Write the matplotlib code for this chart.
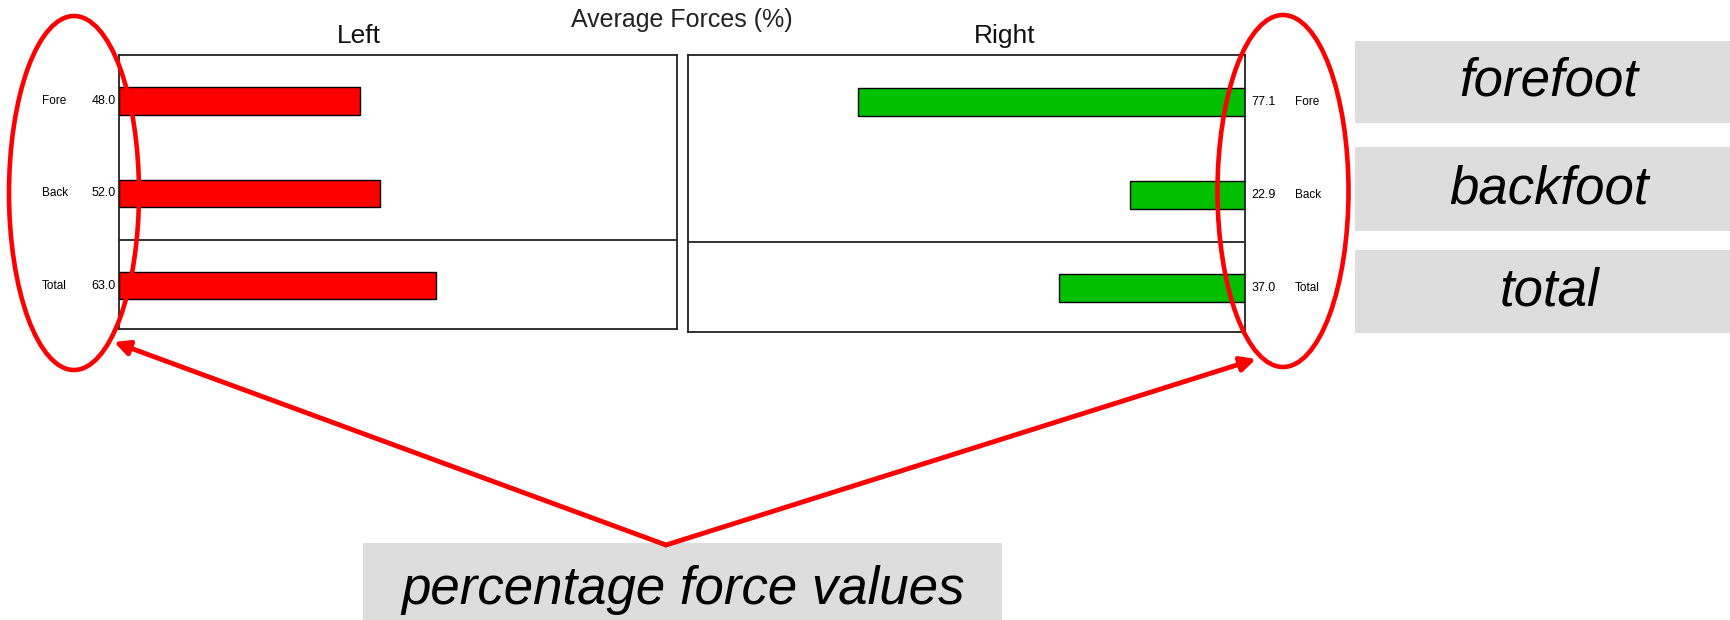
import matplotlib
matplotlib.use('Agg')
import matplotlib.pyplot as plt
from matplotlib.patches import Ellipse, Rectangle
from matplotlib.transforms import blended_transform_factory

plt.rcParams['font.family'] = ['Liberation Sans', 'DejaVu Sans']

# data
parts = ['Fore', 'Back', 'Total']
left_vals = [48.0, 52.0, 63.0]
right_vals = [77.1, 22.9, 37.0]
side_names = ['Left', 'Right']
callouts = ['forefoot', 'backfoot', 'total']
bottom_note = 'percentage force values'
main_title = 'Average Forces (%)'

W, H = 1731, 620
fig = plt.figure(figsize=(W / 100, H / 100), dpi=100)

def px_axes(x0, y0, x1, y1):
    # pixel box (top-left origin) -> figure axes
    return fig.add_axes([x0 / W, 1 - y1 / H, (x1 - x0) / W, (y1 - y0) / H])

ax_l = px_axes(119, 55, 677, 329)
ax_r = px_axes(688, 55, 1245, 332)

ypos = list(range(len(parts)))
xmax = 111

for ax, vals, color in [(ax_l, left_vals, '#ff0000'), (ax_r, right_vals, '#00c000')]:
    ax.barh(ypos, vals, height=0.3, color=color, edgecolor='black', linewidth=1.0)
    ax.axhline(1.5, color='#222222', linewidth=1.3)
    ax.set_ylim(2.47, -0.5)
    ax.set_xticks([])
    ax.set_yticks([])
    for s in ax.spines.values():
        s.set_color('#222222')
        s.set_linewidth(1.3)

ax_l.set_xlim(0, xmax)
ax_r.set_xlim(xmax, 0)

# side titles sit off-centre in the original
fig.text(359 / W, 1 - 36 / H, side_names[0], ha='center', va='center', fontsize=19, color='#111111')
fig.text(1005 / W, 1 - 36 / H, side_names[1], ha='center', va='center', fontsize=19, color='#111111')

tr_l = blended_transform_factory(ax_l.transAxes, ax_l.transData)
tr_r = blended_transform_factory(ax_r.transAxes, ax_r.transData)
for i, p in enumerate(parts):
    ax_l.text(-0.138, i, p, transform=tr_l, ha='left', va='center', fontsize=8.5)
    ax_l.text(-0.006, i, f'{left_vals[i]:.1f}', transform=tr_l, ha='right', va='center', fontsize=9)
    ax_r.text(1.011, i, f'{right_vals[i]:.1f}', transform=tr_r, ha='left', va='center', fontsize=9)
    ax_r.text(1.09, i, p, transform=tr_r, ha='left', va='center', fontsize=8.5)

fig.text(682 / W, 1 - 20 / H, main_title, ha='center', va='center', fontsize=18, color='#222222')

# overlay for annotations, pixel coordinates
ov = fig.add_axes([0, 0, 1, 1])
ov.set_xlim(0, W)
ov.set_ylim(H, 0)
ov.axis('off')

boxes = [(41, 123), (147, 231), (250, 333)]
for (y0, y1), txt in zip(boxes, callouts):
    ov.add_patch(Rectangle((1355, y0), W - 1355, y1 - y0, color='#dddddd', lw=0))
    ov.text(1549, (y0 + y1) / 2, txt, ha='center', va='center', fontsize=38, style='italic')

ov.add_patch(Rectangle((363, 543), 1002 - 363, H - 543, color='#dddddd', lw=0))
ov.text(683, 590, bottom_note, ha='center', va='center', fontsize=38, style='italic')

ov.add_patch(Ellipse((74, 193), 130, 354, fill=False, edgecolor='#ff0000', lw=3.3))
ov.add_patch(Ellipse((1283, 191), 131, 352, fill=False, edgecolor='#ff0000', lw=3.3))

apex = (666, 545)
for tip in [(114, 342), (1256, 359)]:
    ov.annotate('', xy=tip, xytext=apex,
                arrowprops=dict(arrowstyle='-|>', color='#ff0000', lw=3.5,
                                mutation_scale=22, shrinkA=0, shrinkB=0))

fig.savefig('out.png', dpi=100)
